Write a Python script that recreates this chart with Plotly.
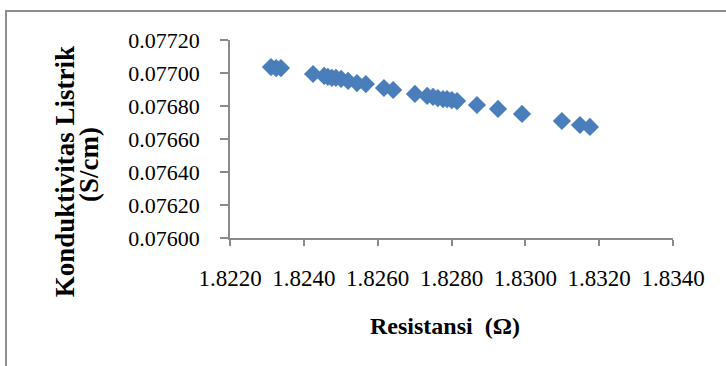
import plotly.graph_objects as go

# Resistance (ohm) and electrical conductivity (S/cm) measurements
resistansi = [
    1.82311, 1.82325, 1.82338, 1.82425, 1.82455, 1.82465, 1.82476, 1.82487,
    1.82501, 1.82520, 1.82544, 1.82568, 1.82617, 1.82642, 1.82701, 1.82734,
    1.82750, 1.82763, 1.82777, 1.82788, 1.82801, 1.82815, 1.82869, 1.82926,
    1.82991, 1.83099, 1.83148, 1.83175,
]
konduktivitas = [
    0.077036, 0.077030, 0.077030, 0.076994, 0.076982, 0.076976, 0.076970, 0.076970,
    0.076964, 0.076952, 0.076939, 0.076933, 0.076909, 0.076897, 0.076873, 0.076861,
    0.076855, 0.076848, 0.076842, 0.076842, 0.076836, 0.076830, 0.076806, 0.076782,
    0.076752, 0.076709, 0.076685, 0.076673,
]

x_range = [1.8220, 1.8340]
y_range = [0.07600, 0.07720]

SERIF = "Liberation Serif, Times New Roman, serif"
AXIS_GRAY = "#8a8a8a"

fig = go.Figure(
    go.Scatter(
        x=resistansi,
        y=konduktivitas,
        mode="markers",
        marker=dict(symbol="diamond", size=14, color="#4A7EBB", line=dict(width=0)),
        hoverinfo="x+y",
    )
)

fig.update_layout(
    width=726,
    height=366,
    margin=dict(l=230, r=53, t=40, b=128),
    paper_bgcolor="white",
    plot_bgcolor="white",
    showlegend=False,
    font=dict(family=SERIF, color="black"),
    xaxis=dict(
        range=x_range,
        dtick=0.002,
        tick0=1.822,
        tickformat=".4f",
        showgrid=False,
        zeroline=False,
        showline=True,
        linecolor=AXIS_GRAY,
        linewidth=1.5,
        ticks="outside",
        ticklen=6,
        tickwidth=1.5,
        tickcolor=AXIS_GRAY,
        tickfont=dict(family=SERIF, size=23, color="black"),
        ticklabelstandoff=13,
    ),
    yaxis=dict(
        range=y_range,
        dtick=0.0002,
        tick0=0.076,
        tickformat=".5f",
        showgrid=False,
        zeroline=False,
        showline=True,
        linecolor=AXIS_GRAY,
        linewidth=1.5,
        ticks="outside",
        ticklen=8,
        tickwidth=1.5,
        tickcolor=AXIS_GRAY,
        tickfont=dict(family=SERIF, size=22, color="black"),
        ticklabelstandoff=16,
    ),
    shapes=[
        dict(
            type="rect",
            xref="paper",
            yref="paper",
            x0=-0.5056,
            x1=1.25,
            y0=-0.70,
            y1=1.1465,
            line=dict(color="#8c8c8c", width=2),
            fillcolor="rgba(0,0,0,0)",
            layer="below",
        )
    ],
    annotations=[
        dict(
            text="<b>Konduktivitas Listrik</b>",
            xref="paper",
            yref="paper",
            x=-0.372,
            y=0.333,
            textangle=-90,
            showarrow=False,
            xanchor="center",
            yanchor="middle",
            font=dict(family=SERIF, size=27, color="black"),
        ),
        dict(
            text="<b>(S/cm)</b>",
            xref="paper",
            yref="paper",
            x=-0.318,
            y=0.369,
            textangle=-90,
            showarrow=False,
            xanchor="center",
            yanchor="middle",
            font=dict(family=SERIF, size=27, color="black"),
        ),
        dict(
            text="<b>Resistansi  (Ω)</b>",
            xref="paper",
            yref="paper",
            x=0.485,
            y=-0.445,
            showarrow=False,
            xanchor="center",
            yanchor="middle",
            font=dict(family=SERIF, size=24, color="black"),
        ),
    ],
)

fig.write_html("out.html")
